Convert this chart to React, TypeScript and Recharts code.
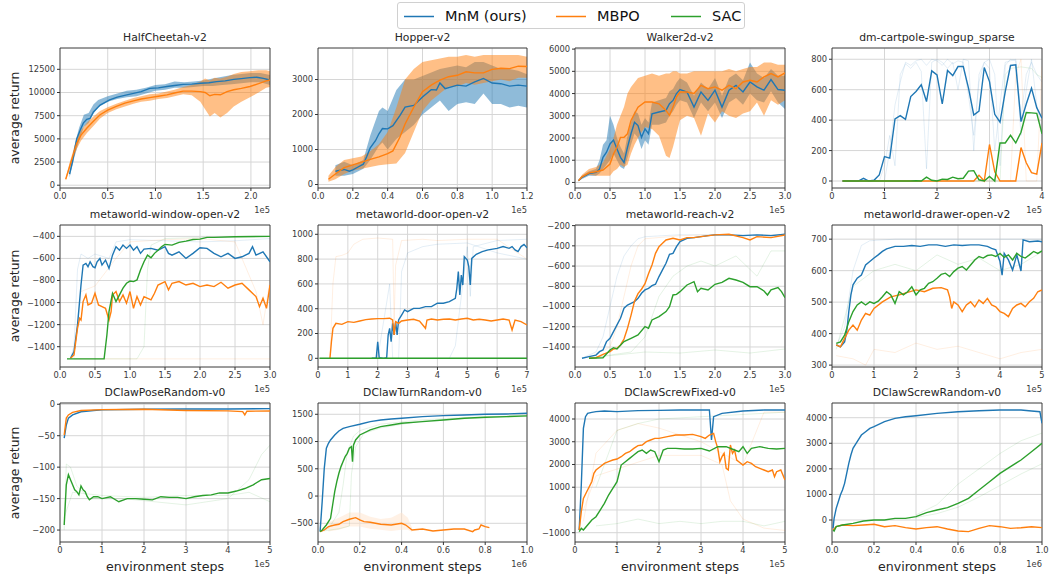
import React from 'react';
import { ComposedChart, Line, Area, XAxis, YAxis, CartesianGrid, ReferenceArea } from 'recharts';

const BLUE = '#1f77b4';
const ORANGE = '#ff7f0e';
const GREEN = '#2ca02c';

// ---------- HalfCheetah-v2 (x in 1e5) ----------
const hcMnm = [[0.1, 1200], [0.13, 2500], [0.175, 5000], [0.21, 5900], [0.244, 6700], [0.28, 7100], [0.314, 7200], [0.35, 7900], [0.42, 8650], [0.52, 9200], [0.6, 9500], [0.7, 9750], [0.77, 9900], [0.85, 10100], [0.94, 10450], [1.03, 10500], [1.12, 10650], [1.2, 10750], [1.29, 10880], [1.38, 10900], [1.47, 11000], [1.56, 11050], [1.64, 11170], [1.73, 11250], [1.82, 11420], [1.9, 11500], [1.99, 11600], [2.06, 11650], [2.13, 11530], [2.2, 11350]];
const hcMnmBand = [[0.1, 800, 1500], [0.15, 3000, 4200], [0.2, 4800, 6200], [0.25, 6300, 7600], [0.3, 6700, 7800], [0.35, 7700, 8700], [0.4, 8400, 9200], [0.5, 9000, 9600], [0.6, 9300, 9900], [0.7, 9500, 10200], [0.8, 9600, 10300], [0.9, 9900, 10500], [1.0, 10200, 10800], [1.1, 10300, 10900], [1.2, 10500, 11200], [1.3, 10500, 11100], [1.4, 10600, 11200], [1.5, 10700, 11300], [1.6, 10700, 11500], [1.7, 10800, 11700], [1.8, 10900, 11900], [1.9, 11000, 12000], [2.0, 11100, 12100], [2.1, 11100, 12100], [2.2, 10800, 11900]];
const hcMbpo = [[0.06, 650], [0.1, 2000], [0.175, 4500], [0.22, 5400], [0.28, 6150], [0.35, 6900], [0.42, 7600], [0.5, 8100], [0.59, 8500], [0.68, 8850], [0.77, 9100], [0.85, 9300], [0.94, 9450], [1.03, 9600], [1.12, 9750], [1.2, 9950], [1.29, 10150], [1.38, 10150], [1.47, 10100], [1.52, 10000], [1.57, 9650], [1.62, 9800], [1.68, 9750], [1.75, 10100], [1.82, 10300], [1.9, 10450], [1.99, 10650], [2.08, 10950], [2.16, 11250], [2.2, 11350]];
const hcMbpoBand = [[0.06, 500, 800], [0.1, 1700, 2400], [0.175, 3900, 5000], [0.22, 4800, 5900], [0.28, 5600, 6700], [0.35, 6400, 7400], [0.42, 7200, 8000], [0.5, 7800, 8400], [0.59, 8200, 8800], [0.68, 8500, 9100], [0.77, 8800, 9400], [0.85, 9000, 9600], [0.94, 9100, 9800], [1.03, 9300, 9900], [1.12, 9400, 10100], [1.2, 9600, 10300], [1.29, 9800, 10600], [1.38, 9700, 10800], [1.47, 9000, 11200], [1.52, 8200, 11500], [1.57, 7400, 11300], [1.62, 7800, 11600], [1.68, 7300, 11500], [1.75, 7800, 11700], [1.82, 8500, 12000], [1.9, 9000, 12200], [1.99, 9500, 12300], [2.08, 10000, 12400], [2.16, 10500, 12400], [2.2, 10600, 12300]];

// ---------- Hopper-v2 (x in 1e5) ----------
const hopMnm = [[0.1, 380], [0.15, 430], [0.18, 380], [0.2, 420], [0.23, 500], [0.26, 580], [0.28, 800], [0.3, 1050], [0.33, 1250], [0.35, 1450], [0.37, 1600], [0.4, 1590], [0.43, 1680], [0.47, 1970], [0.5, 2210], [0.55, 2260], [0.6, 2500], [0.65, 2710], [0.68, 2700], [0.7, 2900], [0.73, 2740], [0.8, 2840], [0.85, 2810], [0.9, 2930], [0.95, 3030], [1.0, 2900], [1.05, 2880], [1.1, 2810], [1.15, 2840], [1.2, 2810]];
const hopMnmBand = [[0.1, 250, 550], [0.15, 250, 650], [0.2, 300, 550], [0.26, 450, 700], [0.3, 700, 1400], [0.35, 1100, 2100], [0.37, 1200, 2200], [0.4, 1000, 2100], [0.45, 1300, 2700], [0.5, 1500, 3000], [0.55, 1700, 3000], [0.6, 2000, 3100], [0.65, 2200, 3200], [0.7, 2400, 3300], [0.75, 2100, 3350], [0.8, 2300, 3400], [0.85, 2350, 3350], [0.9, 2300, 3500], [0.95, 2600, 3500], [1.0, 2300, 3400], [1.05, 2300, 3300], [1.1, 2200, 3300], [1.15, 2250, 3250], [1.2, 2200, 3150]];
const hopMbpo = [[0.06, 150], [0.1, 300], [0.15, 480], [0.2, 560], [0.25, 640], [0.3, 720], [0.35, 790], [0.4, 880], [0.43, 960], [0.47, 1350], [0.5, 1730], [0.55, 2210], [0.6, 2650], [0.65, 2840], [0.7, 2980], [0.75, 3080], [0.8, 3120], [0.85, 3220], [0.9, 3190], [0.95, 3190], [1.0, 3290], [1.05, 3320], [1.1, 3310], [1.15, 3380], [1.2, 3370]];
const hopMbpoBand = [[0.06, 80, 250], [0.1, 150, 500], [0.15, 300, 700], [0.2, 400, 750], [0.25, 450, 800], [0.3, 500, 950], [0.35, 550, 1150], [0.4, 580, 1500], [0.45, 600, 2200], [0.5, 900, 3000], [0.55, 1500, 3300], [0.6, 2100, 3500], [0.65, 2400, 3550], [0.7, 2600, 3600], [0.75, 2800, 3650], [0.8, 2800, 3650], [0.85, 2900, 3700], [0.9, 2850, 3650], [0.95, 2900, 3700], [1.0, 2950, 3700], [1.05, 3000, 3700], [1.1, 2950, 3700], [1.15, 3050, 3700], [1.2, 3050, 3650]];

// ---------- Walker2d-v2 (x in 1e5) ----------
const walkMnm = [[0.05, 80], [0.1, 230], [0.2, 400], [0.3, 450], [0.35, 600], [0.4, 1130], [0.45, 1360], [0.5, 1730], [0.55, 1910], [0.6, 1510], [0.65, 1130], [0.7, 900], [0.75, 1580], [0.8, 2190], [0.85, 2710], [0.9, 2560], [0.95, 2030], [1.0, 2410], [1.05, 2190], [1.1, 3090], [1.2, 3170], [1.3, 3240], [1.35, 3540], [1.4, 3690], [1.45, 4000], [1.5, 4180], [1.6, 4070], [1.7, 3390], [1.8, 4070], [1.9, 3690], [2.0, 4150], [2.1, 3390], [2.2, 4150], [2.3, 4370], [2.4, 4070], [2.5, 4520], [2.6, 4300], [2.7, 4150], [2.8, 4630], [2.9, 4180], [3.0, 4150]];
const walkMnmBand = [[0.05, 50, 120], [0.1, 150, 300], [0.2, 300, 500], [0.3, 300, 600], [0.35, 400, 1000], [0.4, 600, 1700], [0.45, 800, 1900], [0.5, 1000, 3000], [0.55, 1300, 2600], [0.6, 1000, 2000], [0.65, 700, 1600], [0.7, 600, 1300], [0.75, 1100, 2100], [0.8, 1700, 2700], [0.85, 2200, 3200], [0.9, 2000, 3100], [0.95, 1500, 2600], [1.0, 1900, 2900], [1.05, 1700, 2700], [1.1, 2600, 3600], [1.2, 2600, 3700], [1.3, 2700, 3800], [1.35, 3000, 4100], [1.4, 3200, 4200], [1.45, 3500, 4500], [1.5, 3700, 4700], [1.6, 3600, 4500], [1.7, 2900, 3900], [1.8, 3600, 4500], [1.9, 3200, 4200], [2.0, 3600, 4700], [2.1, 2900, 3900], [2.2, 3600, 4700], [2.3, 3800, 4900], [2.4, 3500, 4600], [2.5, 4000, 5400], [2.6, 3700, 4900], [2.7, 3600, 4700], [2.8, 4100, 5100], [2.9, 3600, 4800], [3.0, 3300, 4800]];
const walkMbpo = [[0.05, 80], [0.1, 250], [0.2, 430], [0.3, 480], [0.4, 560], [0.5, 830], [0.55, 1280], [0.6, 1580], [0.65, 2030], [0.7, 2030], [0.75, 2190], [0.8, 2790], [0.85, 3090], [0.9, 3390], [1.0, 3620], [1.1, 3620], [1.2, 3540], [1.3, 3240], [1.35, 3020], [1.4, 3390], [1.45, 3850], [1.5, 4070], [1.6, 4070], [1.7, 4000], [1.8, 4370], [1.9, 4220], [2.0, 4300], [2.1, 4150], [2.2, 4370], [2.3, 4220], [2.4, 4520], [2.5, 4600], [2.6, 4520], [2.7, 4750], [2.8, 4900], [2.9, 4750], [3.0, 4930]];
const walkMbpoBand = [[0.05, 50, 120], [0.1, 200, 350], [0.2, 350, 600], [0.3, 300, 700], [0.4, 300, 900], [0.5, 300, 1500], [0.55, 500, 2000], [0.6, 600, 2600], [0.65, 800, 3000], [0.7, 700, 3400], [0.75, 800, 4000], [0.8, 1300, 4300], [0.85, 1700, 4500], [0.9, 2000, 4700], [1.0, 2500, 4800], [1.1, 2400, 4900], [1.2, 2100, 4800], [1.3, 1200, 4900], [1.35, 1100, 4900], [1.4, 1600, 5000], [1.45, 2200, 5000], [1.5, 2800, 4900], [1.6, 3000, 4900], [1.7, 2900, 5000], [1.8, 2100, 5000], [1.9, 3100, 5000], [2.0, 2700, 5000], [2.1, 3200, 5000], [2.2, 3000, 5100], [2.3, 2900, 5000], [2.4, 3100, 5100], [2.5, 3200, 5200], [2.6, 3600, 5200], [2.7, 3000, 5400], [2.8, 3700, 5400], [2.9, 3500, 5300], [3.0, 3700, 5300]];

// ---------- dm-cartpole-swingup_sparse (x in 1e5) ----------
const cpMnm = [[0.2, 0], [0.3, 0], [0.4, 0], [0.5, 0], [0.6, 18], [0.7, 0], [0.8, 5], [0.9, 40], [1.0, 160], [1.1, 150], [1.2, 408], [1.3, 430], [1.4, 405], [1.5, 555], [1.6, 588], [1.7, 632], [1.8, 522], [1.9, 724], [2.0, 697], [2.1, 506], [2.2, 726], [2.3, 693], [2.4, 752], [2.5, 752], [2.6, 610], [2.7, 434], [2.8, 460], [2.9, 746], [3.0, 653], [3.1, 438], [3.2, 386], [3.3, 588], [3.4, 759], [3.5, 763], [3.6, 390], [3.7, 506], [3.8, 610], [3.9, 482], [4.0, 412]];
const cpMbpo = [[0.2, 0], [2.7, 0], [2.8, 38], [2.9, 0], [3.0, 240], [3.1, 60], [3.2, 0], [3.5, 0], [3.6, 220], [3.7, 120], [3.8, 55], [3.9, 45], [4.0, 250]];
const cpSac = [[0.2, 0], [1.5, 0], [1.6, 2], [1.7, 0], [1.8, 25], [1.9, 5], [2.0, 0], [2.1, 12], [2.2, 10], [2.3, 25], [2.4, 15], [2.5, 18], [2.6, 65], [2.7, 68], [2.8, 8], [2.9, 0], [3.0, 30], [3.1, 0], [3.2, 250], [3.3, 250], [3.4, 300], [3.5, 250], [3.6, 320], [3.7, 450], [3.8, 448], [3.9, 445], [4.0, 310]];
const cpSeedB1 = [[0.2, 0], [1.0, 0], [1.1, 200], [1.2, 500], [1.3, 650], [1.4, 780], [1.5, 760], [1.6, 790], [1.7, 800], [1.8, 760], [1.9, 800], [2.0, 790], [2.1, 760], [2.2, 800], [2.3, 770], [2.4, 790], [2.5, 780], [2.6, 560], [2.7, 300], [2.8, 650], [2.9, 780], [3.0, 740], [3.1, 200], [3.2, 500], [3.3, 780], [3.4, 790], [3.5, 800], [3.6, 420], [3.7, 700], [3.8, 780], [3.9, 700], [4.0, 650]];
const cpSeedB2 = [[0.2, 0], [0.9, 0], [1.0, 100], [1.1, 300], [1.2, 100], [1.3, 700], [1.4, 770], [1.5, 740], [1.6, 780], [1.7, 720], [1.8, 80], [1.9, 780], [2.0, 800], [2.1, 780], [2.2, 740], [2.3, 780], [2.4, 600], [2.5, 800], [2.6, 790], [2.7, 200], [2.8, 700], [2.9, 780], [3.0, 800], [3.1, 700], [3.2, 100], [3.3, 760], [3.4, 800], [3.5, 790], [3.6, 300], [3.7, 600], [3.8, 800], [3.9, 500], [4.0, 300]];
const cpSeedG = [[0.2, 0], [3.2, 0], [3.3, 700], [3.4, 740], [3.6, 750], [3.8, 740], [3.9, 700], [4.0, 680]];
const cpSeedO = [[0.2, 0], [3.4, 0], [3.5, 700], [3.6, 800], [3.7, 0], [3.9, 0], [4.0, 750]];

// ---------- metaworld-window-open-v2 (x in 1e5) ----------
const woMnm = [[0.15, -1505], [0.2, -1445], [0.25, -1204], [0.3, -841], [0.33, -660], [0.37, -645], [0.4, -675], [0.43, -630], [0.47, -675], [0.5, -684], [0.53, -630], [0.57, -600], [0.6, -660], [0.65, -615], [0.7, -690], [0.75, -570], [0.8, -494], [0.85, -525], [0.9, -479], [0.95, -509], [1.0, -479], [1.05, -525], [1.1, -494], [1.15, -554], [1.2, -515], [1.3, -509], [1.4, -525], [1.5, -494], [1.55, -554], [1.6, -570], [1.7, -540], [1.8, -600], [1.9, -554], [2.0, -503], [2.1, -509], [2.2, -554], [2.3, -585], [2.4, -554], [2.5, -600], [2.6, -585], [2.7, -554], [2.75, -494], [2.8, -570], [2.9, -540], [3.0, -630]];
const woMbpo = [[0.15, -1505], [0.2, -1475], [0.25, -1234], [0.28, -1143], [0.3, -1158], [0.33, -991], [0.37, -931], [0.4, -1022], [0.45, -1006], [0.5, -916], [0.55, -1022], [0.6, -1037], [0.65, -1052], [0.7, -1158], [0.73, -1082], [0.75, -931], [0.8, -900], [0.85, -991], [0.9, -931], [0.95, -1006], [1.0, -900], [1.05, -1052], [1.1, -946], [1.15, -1022], [1.2, -946], [1.3, -976], [1.35, -916], [1.4, -841], [1.5, -810], [1.55, -885], [1.6, -825], [1.7, -810], [1.8, -841], [1.9, -825], [2.0, -855], [2.1, -841], [2.2, -855], [2.3, -816], [2.4, -870], [2.5, -841], [2.6, -825], [2.7, -885], [2.8, -946], [2.85, -1037], [2.9, -961], [2.95, -1052], [3.0, -841]];
const woSac = [[0.1, -1510], [0.63, -1510], [0.67, -1294], [0.7, -1082], [0.75, -916], [0.78, -961], [0.8, -991], [0.85, -931], [0.9, -870], [0.95, -825], [1.0, -805], [1.05, -810], [1.1, -795], [1.15, -705], [1.2, -630], [1.25, -570], [1.3, -594], [1.35, -554], [1.4, -525], [1.45, -494], [1.5, -473], [1.6, -479], [1.7, -455], [1.8, -443], [1.9, -428], [2.0, -425], [2.1, -409], [2.2, -409], [2.5, -403], [3.0, -400]];
const woSeedB = [[0.15, -1500], [0.2, -1400], [0.25, -700], [0.3, -560], [0.4, -600], [0.5, -560], [0.7, -600], [0.8, -450], [1.0, -430], [1.5, -440], [2.0, -450], [2.5, -440], [3.0, -420]];
const woSeedO = [[0.2, -1500], [0.3, -900], [0.5, -850], [0.8, -600], [1.0, -450], [1.5, -430], [2.0, -420], [2.5, -450], [2.8, -900], [2.9, -1200], [3.0, -800]];
const woSeedO2 = [[0.2, -1510], [3.0, -1510]];
const woSeedG = [[0.1, -1510], [1.1, -1510], [1.2, -1400], [1.25, -700], [1.3, -480], [1.5, -420], [2.0, -410], [3.0, -400]];

// ---------- metaworld-door-open-v2 (x in 1e5) ----------
const doMnm = [[1.8, 0], [1.95, 0], [2.0, 134], [2.05, 5], [2.2, 0], [2.3, 5], [2.35, 188], [2.4, 242], [2.45, 134], [2.5, 282], [2.55, 188], [2.6, 296], [2.65, 188], [2.7, 309], [2.8, 349], [2.9, 390], [3.0, 376], [3.2, 403], [3.4, 403], [3.6, 417], [3.8, 417], [4.0, 444], [4.2, 444], [4.4, 457], [4.6, 484], [4.65, 565], [4.7, 699], [4.75, 511], [4.8, 672], [4.85, 591], [4.9, 820], [5.0, 793], [5.05, 739], [5.1, 591], [5.15, 806], [5.3, 839], [5.5, 860], [5.7, 874], [6.0, 887], [6.2, 901], [6.4, 887], [6.5, 901], [6.6, 874], [6.7, 860], [6.8, 901], [6.9, 919], [7.0, 892]];
const doMbpo = [[0.4, 0], [0.45, 134], [0.5, 242], [0.6, 282], [0.8, 274], [1.0, 296], [1.2, 290], [1.4, 301], [1.6, 312], [1.8, 317], [2.0, 320], [2.2, 320], [2.4, 323], [2.5, 309], [2.55, 188], [2.6, 296], [2.7, 282], [2.8, 301], [3.0, 309], [3.2, 315], [3.4, 301], [3.6, 242], [3.65, 309], [3.8, 317], [4.0, 309], [4.2, 315], [4.4, 317], [4.6, 309], [4.8, 317], [5.0, 323], [5.2, 309], [5.4, 315], [5.6, 309], [5.8, 301], [6.0, 309], [6.2, 317], [6.4, 309], [6.5, 228], [6.6, 309], [6.8, 296], [7.0, 269]];
const doSac = [[0.05, 0], [7.0, 0]];
const doSeedO = [[0.4, 0], [0.5, 600], [0.6, 820], [0.8, 830], [1.0, 850], [1.2, 920], [1.5, 960], [2.0, 970], [2.5, 960], [2.55, 300], [2.6, 750], [2.8, 950], [3.5, 960], [4.0, 950], [5.0, 960], [6.0, 960], [7.0, 800]];
const doSeedB1 = [[2.0, 0], [2.4, 600], [2.5, 0], [2.7, 0], [2.8, 700], [3.0, 850], [3.5, 900], [4.0, 920], [5.0, 930], [6.0, 850], [7.0, 800]];
const doSeedB2 = [[4.4, 0], [4.6, 100], [4.8, 500], [5.0, 900], [5.1, 500], [5.2, 900], [6.0, 950], [7.0, 960]];

// ---------- metaworld-reach-v2 (x in 1e5) ----------
const reMnm = [[0.1, -1512], [0.2, -1496], [0.3, -1480], [0.35, -1446], [0.4, -1430], [0.45, -1347], [0.5, -1314], [0.55, -1248], [0.6, -1182], [0.65, -1116], [0.7, -1017], [0.75, -985], [0.8, -968], [0.85, -952], [0.9, -919], [0.95, -869], [1.0, -836], [1.05, -820], [1.1, -794], [1.15, -780], [1.2, -704], [1.25, -638], [1.3, -573], [1.35, -484], [1.4, -474], [1.45, -408], [1.5, -358], [1.6, -325], [1.7, -319], [1.8, -309], [1.9, -299], [2.0, -292], [2.2, -292], [2.4, -299], [2.6, -292], [2.8, -299], [3.0, -286]];
const reMbpo = [[0.2, -1512], [0.3, -1506], [0.4, -1473], [0.5, -1446], [0.55, -1420], [0.6, -1413], [0.65, -1380], [0.7, -1321], [0.75, -1215], [0.8, -1087], [0.85, -948], [0.9, -873], [0.95, -829], [1.0, -774], [1.05, -675], [1.1, -589], [1.15, -474], [1.2, -408], [1.25, -375], [1.3, -342], [1.4, -325], [1.5, -342], [1.6, -319], [1.7, -319], [1.8, -309], [2.0, -292], [2.2, -286], [2.4, -319], [2.5, -342], [2.6, -309], [2.8, -319], [3.0, -292]];
const reSac = [[0.2, -1512], [0.4, -1506], [0.5, -1430], [0.55, -1407], [0.6, -1420], [0.7, -1347], [0.8, -1314], [0.9, -1281], [1.0, -1199], [1.05, -1215], [1.1, -1133], [1.2, -1100], [1.3, -1050], [1.35, -1001], [1.4, -886], [1.45, -880], [1.5, -853], [1.6, -787], [1.7, -754], [1.75, -853], [1.8, -820], [1.9, -836], [2.0, -780], [2.1, -761], [2.2, -721], [2.3, -738], [2.4, -761], [2.5, -804], [2.6, -804], [2.7, -846], [2.75, -886], [2.8, -836], [2.9, -813], [2.95, -853], [3.0, -913]];
const reSeedB = [[0.1, -1510], [0.3, -1450], [0.4, -1300], [0.5, -1000], [0.6, -700], [0.7, -500], [0.8, -400], [0.9, -330], [1.0, -310], [1.5, -290], [2.0, -290], [3.0, -290]];
const reSeedO = [[0.2, -1510], [0.5, -1400], [0.6, -1200], [0.7, -900], [0.8, -600], [0.9, -400], [1.0, -330], [1.5, -300], [2.0, -290], [2.5, -300], [3.0, -290]];
const reSeedG1 = [[0.2, -1510], [0.8, -1450], [1.0, -1300], [1.2, -900], [1.4, -700], [1.6, -600], [1.8, -550], [2.0, -600], [2.3, -500], [2.6, -700], [2.8, -450], [3.0, -450]];
const reSeedG2 = [[0.3, -1500], [1.0, -1450], [1.5, -1460], [2.0, -1430], [2.5, -1460], [3.0, -1420]];

// ---------- metaworld-drawer-open-v2 (x in 1e5) ----------
const drMnm = [[0.1, 364], [0.2, 358], [0.3, 374], [0.35, 406], [0.4, 470], [0.45, 523], [0.5, 555], [0.6, 576], [0.7, 586], [0.8, 618], [0.9, 629], [1.0, 640], [1.1, 650], [1.2, 661], [1.3, 669], [1.4, 673], [1.5, 677], [1.7, 677], [1.9, 680], [2.1, 677], [2.3, 682], [2.5, 682], [2.7, 677], [2.9, 682], [3.1, 680], [3.3, 682], [3.5, 682], [3.7, 677], [3.8, 671], [3.9, 666], [4.0, 629], [4.05, 586], [4.1, 655], [4.2, 634], [4.3, 602], [4.4, 650], [4.5, 599], [4.55, 698], [4.7, 692], [4.9, 694], [5.0, 692]];
const drMbpo = [[0.1, 364], [0.2, 358], [0.3, 385], [0.4, 411], [0.5, 427], [0.6, 411], [0.7, 443], [0.8, 464], [0.9, 459], [1.0, 480], [1.2, 501], [1.4, 517], [1.6, 523], [1.8, 531], [2.0, 539], [2.2, 533], [2.4, 544], [2.6, 546], [2.75, 539], [2.8, 517], [2.85, 480], [2.9, 501], [3.0, 491], [3.1, 470], [3.2, 491], [3.3, 501], [3.4, 485], [3.5, 507], [3.6, 496], [3.7, 512], [3.8, 491], [3.9, 485], [4.0, 470], [4.1, 464], [4.2, 454], [4.3, 480], [4.4, 491], [4.5, 496], [4.6, 485], [4.7, 501], [4.8, 512], [4.9, 533], [5.0, 539]];
const drSac = [[0.1, 369], [0.2, 374], [0.3, 395], [0.4, 438], [0.5, 470], [0.6, 491], [0.7, 501], [0.8, 491], [0.9, 501], [1.0, 496], [1.1, 503], [1.2, 517], [1.3, 533], [1.4, 523], [1.5, 496], [1.6, 533], [1.7, 523], [1.8, 533], [1.9, 549], [2.0, 523], [2.1, 539], [2.2, 544], [2.3, 560], [2.4, 565], [2.5, 576], [2.6, 588], [2.7, 592], [2.8, 581], [2.9, 597], [3.0, 608], [3.1, 613], [3.2, 602], [3.3, 618], [3.4, 634], [3.5, 645], [3.6, 640], [3.7, 648], [3.8, 650], [3.9, 645], [4.0, 655], [4.1, 642], [4.2, 650], [4.3, 634], [4.4, 655], [4.5, 645], [4.6, 640], [4.7, 650], [4.8, 661], [4.9, 655], [5.0, 663]];
const drSeedB = [[0.1, 360], [0.3, 420], [0.5, 600], [0.7, 680], [0.9, 695], [1.5, 700], [2.5, 700], [3.5, 700], [4.5, 700], [5.0, 700]];
const drSeedO = [[0.1, 330], [0.5, 320], [0.8, 300], [1.0, 350], [1.5, 340], [2.0, 370], [2.5, 350], [3.0, 360], [3.5, 340], [4.0, 320], [4.5, 340], [5.0, 350]];
const drSeedG = [[0.1, 350], [0.5, 550], [1.0, 600], [1.5, 620], [2.0, 600], [2.5, 650], [3.0, 620], [3.5, 640], [4.0, 600], [4.5, 620], [5.0, 660]];

// ---------- DClawPoseRandom-v0 (x in 1e5) ----------
const poMnm = [[0.1, -54], [0.15, -33], [0.2, -22], [0.3, -17], [0.5, -12], [0.8, -10], [1.0, -9], [2.0, -8], [3.0, -7.5], [4.0, -7.5], [5.0, -7]];
const poMbpo = [[0.1, -49], [0.15, -22], [0.2, -17], [0.3, -13], [0.5, -10], [1.0, -8.5], [2.0, -8], [3.0, -10], [4.0, -10.6], [4.35, -11.7], [4.4, -17], [4.45, -11], [5.0, -10.6]];
const poSac = [[0.1, -192], [0.15, -128], [0.2, -112], [0.25, -120], [0.3, -128], [0.35, -136], [0.4, -139], [0.45, -144], [0.5, -130], [0.55, -136], [0.6, -139], [0.65, -147], [0.7, -152], [0.8, -147], [0.9, -147], [1.0, -150], [1.2, -147], [1.4, -155], [1.6, -150], [1.8, -150], [2.0, -151], [2.2, -152], [2.4, -147], [2.6, -148], [2.8, -148], [3.0, -150], [3.2, -147], [3.4, -145], [3.6, -144], [3.8, -141], [4.0, -141], [4.2, -138], [4.4, -134], [4.6, -128], [4.8, -120], [5.0, -118]];
const poSeedG1 = [[0.1, -200], [0.15, -95], [0.25, -100], [0.4, -130], [0.7, -150], [1.5, -150], [3.0, -160], [4.0, -150], [4.5, -120], [4.8, -80], [5.0, -65]];
const poSeedG2 = [[0.1, -180], [0.3, -140], [1.0, -145], [2.0, -148], [3.0, -145], [4.0, -145], [4.5, -140], [5.0, -155]];

// ---------- DClawTurnRandom-v0 (x in 1e6) ----------
const tuMnm = [[0.01, -653], [0.02, -102], [0.03, 509], [0.04, 876], [0.05, 968], [0.06, 1029], [0.08, 1121], [0.1, 1194], [0.12, 1243], [0.15, 1274], [0.2, 1317], [0.25, 1365], [0.3, 1396], [0.35, 1414], [0.4, 1427], [0.5, 1457], [0.6, 1476], [0.7, 1488], [0.8, 1500], [0.9, 1506], [1.0, 1518]];
const tuMbpo = [[0.01, -653], [0.03, -622], [0.05, -561], [0.08, -531], [0.1, -518], [0.12, -469], [0.15, -426], [0.18, -396], [0.2, -439], [0.22, -469], [0.25, -481], [0.3, -518], [0.35, -531], [0.4, -500], [0.42, -531], [0.45, -622], [0.5, -604], [0.55, -641], [0.6, -622], [0.65, -604], [0.7, -604], [0.74, -653], [0.75, -622], [0.77, -604], [0.78, -531], [0.8, -561], [0.82, -580]];
const tuMbpoBand = [[0.05, -650, -480], [0.1, -620, -400], [0.15, -560, -300], [0.2, -560, -300], [0.25, -600, -380], [0.3, -620, -420], [0.35, -640, -400], [0.4, -620, -300], [0.43, -620, -400], [0.45, -660, -580]];
const tuSac = [[0.01, -653], [0.02, -622], [0.04, -531], [0.06, -408], [0.07, -164], [0.08, 81], [0.09, 265], [0.1, 418], [0.11, 540], [0.12, 632], [0.13, 723], [0.14, 784], [0.15, 876], [0.16, 907], [0.165, 632], [0.17, 937], [0.18, 1029], [0.2, 1121], [0.25, 1213], [0.3, 1274], [0.35, 1304], [0.4, 1335], [0.5, 1365], [0.6, 1396], [0.7, 1427], [0.8, 1445], [0.9, 1457], [1.0, 1470]];
const tuSeedG1 = [[0.01, -650], [0.05, -600], [0.1, -300], [0.12, 200], [0.14, 800], [0.17, 1100], [0.2, 1200], [0.3, 1320], [0.5, 1400], [0.7, 1440], [1.0, 1480]];
const tuSeedG2 = [[0.01, -650], [0.1, -600], [0.15, -550], [0.16, 400], [0.18, 900], [0.22, 1150], [0.3, 1250], [0.5, 1380], [0.7, 1420], [1.0, 1460]];

// ---------- DClawScrewFixed-v0 (x in 1e5) ----------
const sfMnm = [[0.1, -883], [0.15, 1097], [0.2, 3589], [0.25, 4103], [0.3, 4249], [0.4, 4293], [0.5, 4323], [0.7, 4352], [1.0, 4323], [1.5, 4367], [2.0, 4381], [2.5, 4396], [3.0, 4396], [3.2, 4396], [3.25, 3076], [3.3, 4103], [3.5, 4249], [4.0, 4352], [4.5, 4396], [5.0, 4396]];
const sfMbpo = [[0.1, -883], [0.15, -76], [0.2, 510], [0.3, 877], [0.4, 1243], [0.45, 1610], [0.5, 1757], [0.6, 1903], [0.7, 2050], [0.8, 2123], [0.9, 2196], [1.0, 2240], [1.1, 2343], [1.2, 2490], [1.3, 2563], [1.4, 2710], [1.5, 2827], [1.6, 2856], [1.7, 3003], [1.8, 3076], [1.9, 3150], [2.0, 3150], [2.2, 3223], [2.4, 3296], [2.6, 3296], [2.8, 3325], [3.0, 3223], [3.1, 3150], [3.2, 3296], [3.3, 3369], [3.35, 3003], [3.4, 2710], [3.45, 2123], [3.5, 2343], [3.55, 2490], [3.6, 1830], [3.65, 1757], [3.7, 2856], [3.75, 2490], [3.8, 2636], [3.85, 2196], [3.9, 2123], [4.0, 1976], [4.1, 2123], [4.2, 2050], [4.3, 1903], [4.4, 1830], [4.5, 1757], [4.6, 1683], [4.7, 1757], [4.75, 1463], [4.8, 1683], [4.9, 1757], [5.0, 1317]];
const sfSac = [[0.1, -956], [0.15, -810], [0.2, -883], [0.3, -663], [0.4, -443], [0.5, -297], [0.6, -3], [0.7, 290], [0.8, 657], [0.9, 950], [0.95, 1097], [1.0, 1243], [1.1, 1976], [1.2, 2123], [1.3, 2270], [1.4, 2416], [1.5, 2563], [1.6, 2636], [1.7, 2490], [1.8, 2636], [1.9, 2563], [2.0, 2123], [2.1, 2636], [2.2, 2710], [2.4, 2710], [2.6, 2680], [2.8, 2680], [3.0, 2710], [3.2, 2592], [3.4, 2783], [3.6, 2783], [3.8, 2636], [3.9, 2563], [4.0, 2783], [4.1, 2490], [4.2, 2710], [4.4, 2783], [4.6, 2710], [4.8, 2680], [5.0, 2710]];
const sfSeedO1 = [[0.2, 0], [0.5, 1500], [1.0, 1800], [2.0, 2400], [3.0, 2400], [3.5, 2000], [3.7, 400], [4.0, -400], [4.5, -800], [5.0, -900]];
const sfSeedO2 = [[0.2, -500], [0.5, 2500], [1.0, 3500], [1.5, 3800], [2.0, 3600], [3.0, 3000], [3.5, 2500], [4.0, 2000], [4.5, 4300], [5.0, 4300]];
const sfSeedG1 = [[0.5, -700], [1.0, -600], [1.5, -400], [2.0, -600], [2.5, -500], [3.0, -600], [3.5, -500], [4.0, -500], [4.5, -700], [5.0, -500]];
const sfSeedG2 = [[0.5, 1000], [1.0, 3500], [1.5, 3800], [2.0, 4000], [3.0, 4100], [4.0, 4200], [5.0, 4300]];

// ---------- DClawScrewRandom-v0 (x in 1e6) ----------
const srMnm = [[0.005, -326], [0.01, 65], [0.02, 456], [0.03, 717], [0.04, 977], [0.05, 1173], [0.06, 1433], [0.07, 1824], [0.08, 2215], [0.09, 2541], [0.1, 2801], [0.12, 3062], [0.14, 3322], [0.16, 3453], [0.18, 3583], [0.2, 3648], [0.25, 3844], [0.3, 3974], [0.35, 4039], [0.4, 4078], [0.5, 4169], [0.6, 4235], [0.7, 4274], [0.8, 4300], [0.9, 4300], [0.95, 4261], [0.99, 4235], [1.0, 3779]];
const srMbpo = [[0.005, -391], [0.02, -261], [0.05, -195], [0.1, -221], [0.15, -195], [0.2, -169], [0.25, -261], [0.3, -221], [0.35, -300], [0.4, -352], [0.45, -300], [0.5, -261], [0.55, -352], [0.6, -430], [0.65, -456], [0.7, -326], [0.75, -221], [0.8, -261], [0.85, -326], [0.9, -300], [0.95, -261], [1.0, -300]];
const srSac = [[0.005, -391], [0.01, -430], [0.02, -261], [0.05, -195], [0.1, -130], [0.15, -39], [0.2, 0], [0.25, 0], [0.3, 65], [0.35, 65], [0.4, 130], [0.45, 287], [0.5, 391], [0.55, 482], [0.6, 651], [0.65, 847], [0.7, 1173], [0.75, 1498], [0.8, 1824], [0.85, 2085], [0.9, 2345], [0.95, 2671], [1.0, 2997]];
const srSeedG1 = [[0.4, 200], [0.5, 600], [0.6, 1400], [0.7, 2000], [0.8, 2600], [0.9, 3100], [1.0, 3400]];
const srSeedG2 = [[0.4, 100], [0.5, 250], [0.6, 500], [0.7, 900], [0.8, 1350], [0.9, 1800], [1.0, 2200]];

const toXY = (a: number[][]) => a.map(([x, y]) => ({ x, y }));
const toBand = (a: number[][]) => a.map(([x, lo, hi]) => ({ x, r: [lo, hi] }));

type Seg = { data: number[][]; color: string };
interface PanelProps {
  title: string;
  left: number;
  top: number;
  w: number;
  h: number;
  xDomain: [number, number];
  xTicks: number[];
  xDigits: number;
  yDomain: [number, number];
  yTicks: number[];
  lines: Seg[];
  bands?: Seg[];
  seeds?: Seg[];
  exp: string;
  yLabel?: boolean;
  xLabel?: boolean;
}

const TICK = { fill: '#3a3a3a', fontSize: 8.3, fontFamily: 'DejaVu Sans' };

function Panel(p: PanelProps) {
  const yw = 45;
  const mt = 6;
  const mr = 14;
  const xh = 20;
  const fmtY = (v: number) => (v < 0 ? '\u2212' + Math.abs(v) : String(v));
  const fmtX = (v: number) => v.toFixed(p.xDigits);
  return (
    <>
      <div style={{ position: 'absolute', left: p.left - 20, top: p.top - 17, width: p.w + 40, textAlign: 'center', fontSize: 10.8, lineHeight: '13px', color: '#262626', whiteSpace: 'nowrap' }}>
        {p.title}
      </div>
      <div style={{ position: 'absolute', left: p.left - yw, top: p.top - mt }}>
        <ComposedChart width={yw + p.w + mr} height={mt + p.h + xh} margin={{ top: mt, right: mr, bottom: 0, left: 0 }}>
          <CartesianGrid stroke="#d6d6d6" strokeWidth={1} />
          <XAxis
            type="number"
            dataKey="x"
            domain={p.xDomain}
            ticks={p.xTicks}
            interval={0}
            allowDataOverflow
            tickFormatter={fmtX}
            height={xh}
            tickSize={3}
            axisLine={false}
            tick={TICK}
            tickLine={{ stroke: '#333' }}
          />
          <YAxis
            type="number"
            domain={p.yDomain}
            ticks={p.yTicks}
            interval={0}
            allowDataOverflow
            tickFormatter={fmtY}
            width={yw}
            tickSize={3}
            axisLine={false}
            tick={TICK}
            tickLine={{ stroke: '#333' }}
          />
          {(p.seeds || []).map((s, i) => (
            <Line key={'s' + i} data={toXY(s.data)} dataKey="y" type="linear" dot={false} stroke={s.color} strokeOpacity={0.12} strokeWidth={1} isAnimationActive={false} />
          ))}
          {(p.bands || []).map((b, i) => (
            <Area key={'b' + i} data={toBand(b.data)} dataKey="r" type="linear" stroke="none" fill={b.color} fillOpacity={0.5} isAnimationActive={false} />
          ))}
          {p.lines.map((s, i) => (
            <Line key={'l' + i} data={toXY(s.data)} dataKey="y" type="linear" dot={false} stroke={s.color} strokeWidth={1.4} isAnimationActive={false} />
          ))}
          <ReferenceArea x1={p.xDomain[0]} x2={p.xDomain[1]} y1={p.yDomain[0]} y2={p.yDomain[1]} fill="none" stroke="#262626" strokeWidth={0.8} ifOverflow="visible" />
        </ComposedChart>
      </div>
      <div style={{ position: 'absolute', left: p.left + p.w - 40, top: p.top + p.h + 16, width: 40, textAlign: 'right', fontSize: 8.3, lineHeight: '12px', color: '#3a3a3a' }}>
        {p.exp}
      </div>
      {p.yLabel && (
        <div style={{ position: 'absolute', left: 15 - 60, top: p.top + p.h / 2 - 8, width: 120, height: 16, lineHeight: '16px', textAlign: 'center', fontSize: 12.4, color: '#262626', transform: 'rotate(-90deg)' }}>
          average return
        </div>
      )}
      {p.xLabel && (
        <div style={{ position: 'absolute', left: p.left, top: 559, width: p.w, lineHeight: '16px', textAlign: 'center', fontSize: 12.6, color: '#262626' }}>
          environment steps
        </div>
      )}
    </>
  );
}

function LegendBox() {
  const items = [
    { label: 'MnM (ours)', color: BLUE, x: 6 },
    { label: 'MBPO', color: ORANGE, x: 158 },
    { label: 'SAC', color: GREEN, x: 273 },
  ];
  return (
    <div style={{ position: 'absolute', left: 397, top: 2, width: 348, height: 27, border: '1px solid #d0d0d0', borderRadius: 3, background: '#fff', boxSizing: 'border-box' }}>
      {items.map((it) => (
        <React.Fragment key={it.label}>
          <svg style={{ position: 'absolute', left: it.x, top: 12 }} width={30} height={3}>
            <line x1={0} y1={1.5} x2={30} y2={1.5} stroke={it.color} strokeWidth={1.5} />
          </svg>
          <div style={{ position: 'absolute', left: it.x + 41, top: 3, lineHeight: '20px', fontSize: 14.5, color: '#111', whiteSpace: 'nowrap' }}>{it.label}</div>
        </React.Fragment>
      ))}
    </div>
  );
}

const COLS = [60, 318, 575, 832];
const COLW = [210, 209, 210, 210];
const ROWS = [48, 225, 403];
const ROWH = [140, 142, 139];

export default function App() {
  const at = (r: number, c: number) => ({ left: COLS[c], top: ROWS[r], w: COLW[c], h: ROWH[r] });
  const half = [0, 0.5, 1, 1.5, 2, 2.5, 3];
  return (
    <div style={{ position: 'absolute', left: 0, top: 0, width: 1049, height: 576, background: '#fff', fontFamily: 'DejaVu Sans', overflow: 'hidden' }}>
      <LegendBox />
      <Panel title="HalfCheetah-v2" {...at(0, 0)} xDomain={[0, 2.2]} xTicks={[0, 0.5, 1, 1.5, 2]} xDigits={1} yDomain={[-300, 14800]} yTicks={[0, 2500, 5000, 7500, 10000, 12500]} exp="1e5" yLabel
        bands={[{ data: hcMnmBand, color: BLUE }, { data: hcMbpoBand, color: ORANGE }]}
        lines={[{ data: hcMnm, color: BLUE }, { data: hcMbpo, color: ORANGE }]} />
      <Panel title="Hopper-v2" {...at(0, 1)} xDomain={[0, 1.2]} xTicks={[0, 0.2, 0.4, 0.6, 0.8, 1.0, 1.2]} xDigits={1} yDomain={[-100, 3900]} yTicks={[0, 1000, 2000, 3000]} exp="1e5"
        bands={[{ data: hopMnmBand, color: BLUE }, { data: hopMbpoBand, color: ORANGE }]}
        lines={[{ data: hopMnm, color: BLUE }, { data: hopMbpo, color: ORANGE }]} />
      <Panel title="Walker2d-v2" {...at(0, 2)} xDomain={[0, 3]} xTicks={half} xDigits={1} yDomain={[-250, 6050]} yTicks={[0, 1000, 2000, 3000, 4000, 5000, 6000]} exp="1e5"
        bands={[{ data: walkMnmBand, color: BLUE }, { data: walkMbpoBand, color: ORANGE }]}
        lines={[{ data: walkMnm, color: BLUE }, { data: walkMbpo, color: ORANGE }]} />
      <Panel title="dm-cartpole-swingup_sparse" {...at(0, 3)} xDomain={[0, 4]} xTicks={[0, 1, 2, 3, 4]} xDigits={0} yDomain={[-46, 874]} yTicks={[0, 200, 400, 600, 800]} exp="1e5"
        seeds={[{ data: cpSeedB1, color: BLUE }, { data: cpSeedB2, color: BLUE }, { data: cpSeedG, color: GREEN }, { data: cpSeedO, color: ORANGE }]}
        lines={[{ data: cpMnm, color: BLUE }, { data: cpMbpo, color: ORANGE }, { data: cpSac, color: GREEN }]} />

      <Panel title="metaworld-window-open-v2" {...at(1, 0)} xDomain={[0, 3]} xTicks={half} xDigits={1} yDomain={[-1584, -297]} yTicks={[-1400, -1200, -1000, -800, -600, -400]} exp="1e5" yLabel
        seeds={[{ data: woSeedB, color: BLUE }, { data: woSeedO, color: ORANGE }, { data: woSeedO2, color: ORANGE }, { data: woSeedG, color: GREEN }]}
        lines={[{ data: woMnm, color: BLUE }, { data: woMbpo, color: ORANGE }, { data: woSac, color: GREEN }]} />
      <Panel title="metaworld-door-open-v2" {...at(1, 1)} xDomain={[0, 7]} xTicks={[0, 1, 2, 3, 4, 5, 6, 7]} xDigits={0} yDomain={[-70, 1075]} yTicks={[0, 200, 400, 600, 800, 1000]} exp="1e5"
        seeds={[{ data: doSeedO, color: ORANGE }, { data: doSeedB1, color: BLUE }, { data: doSeedB2, color: BLUE }]}
        lines={[{ data: doMnm, color: BLUE }, { data: doMbpo, color: ORANGE }, { data: doSac, color: GREEN }]} />
      <Panel title="metaworld-reach-v2" {...at(1, 2)} xDomain={[0, 3]} xTicks={half} xDigits={1} yDomain={[-1598, -194]} yTicks={[-1400, -1200, -1000, -800, -600, -400, -200]} exp="1e5"
        seeds={[{ data: reSeedB, color: BLUE }, { data: reSeedO, color: ORANGE }, { data: reSeedG1, color: GREEN }, { data: reSeedG2, color: GREEN }]}
        lines={[{ data: reMnm, color: BLUE }, { data: reMbpo, color: ORANGE }, { data: reSac, color: GREEN }]} />
      <Panel title="metaworld-drawer-open-v2" {...at(1, 3)} xDomain={[0, 5]} xTicks={[0, 1, 2, 3, 4, 5]} xDigits={0} yDomain={[294, 745]} yTicks={[300, 400, 500, 600, 700]} exp="1e5"
        seeds={[{ data: drSeedB, color: BLUE }, { data: drSeedO, color: ORANGE }, { data: drSeedG, color: GREEN }]}
        lines={[{ data: drMnm, color: BLUE }, { data: drMbpo, color: ORANGE }, { data: drSac, color: GREEN }]} />

      <Panel title="DClawPoseRandom-v0" {...at(2, 0)} xDomain={[0, 5]} xTicks={[0, 1, 2, 3, 4, 5]} xDigits={0} yDomain={[-219, 2]} yTicks={[-200, -150, -100, -50, 0]} exp="1e5" yLabel xLabel
        seeds={[{ data: poSeedG1, color: GREEN }, { data: poSeedG2, color: GREEN }]}
        lines={[{ data: poMnm, color: BLUE }, { data: poMbpo, color: ORANGE }, { data: poSac, color: GREEN }]} />
      <Panel title="DClawTurnRandom-v0" {...at(2, 1)} xDomain={[0, 1]} xTicks={[0, 0.2, 0.4, 0.6, 0.8, 1.0]} xDigits={1} yDomain={[-843, 1707]} yTicks={[-500, 0, 500, 1000, 1500]} exp="1e6" xLabel
        seeds={[{ data: tuSeedG1, color: GREEN }, { data: tuSeedG2, color: GREEN }]}
        bands={[{ data: tuMbpoBand, color: '#ffe3cc' }]}
        lines={[{ data: tuMnm, color: BLUE }, { data: tuMbpo, color: ORANGE }, { data: tuSac, color: GREEN }]} />
      <Panel title="DClawScrewFixed-v0" {...at(2, 2)} xDomain={[0, 5]} xTicks={[0, 1, 2, 3, 4, 5]} xDigits={0} yDomain={[-1409, 4704]} yTicks={[-1000, 0, 1000, 2000, 3000, 4000]} exp="1e5" xLabel
        seeds={[{ data: sfSeedO1, color: ORANGE }, { data: sfSeedO2, color: ORANGE }, { data: sfSeedG1, color: GREEN }, { data: sfSeedG2, color: GREEN }]}
        lines={[{ data: sfMnm, color: BLUE }, { data: sfMbpo, color: ORANGE }, { data: sfSac, color: GREEN }]} />
      <Panel title="DClawScrewRandom-v0" {...at(2, 3)} xDomain={[0, 1]} xTicks={[0, 0.2, 0.4, 0.6, 0.8, 1.0]} xDigits={1} yDomain={[-860, 4575]} yTicks={[0, 1000, 2000, 3000, 4000]} exp="1e6" xLabel
        seeds={[{ data: srSeedG1, color: GREEN }, { data: srSeedG2, color: GREEN }]}
        lines={[{ data: srMnm, color: BLUE }, { data: srMbpo, color: ORANGE }, { data: srSac, color: GREEN }]} />
    </div>
  );
}
